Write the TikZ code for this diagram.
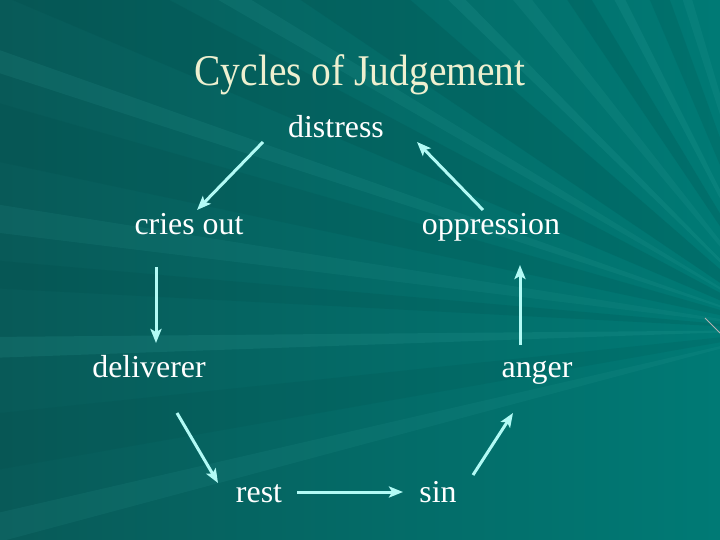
\documentclass[tikz,border=0pt]{standalone}
\usepackage{fontspec}
\setmainfont{Liberation Serif}
\usetikzlibrary{arrows.meta,calc}

\definecolor{bgdark}{RGB}{8,90,88}
\definecolor{bgteal}{RGB}{0,122,117}
\definecolor{raylight}{RGB}{60,175,168}
\definecolor{raydark}{RGB}{0,70,68}
\definecolor{arrowcyan}{RGB}{178,250,245}
\definecolor{titlecol}{RGB}{238,240,208}

\begin{document}
\begin{tikzpicture}[x=1bp,y=-1bp]
\tikzstyle{stage}=[text=white,anchor=base,inner sep=2pt,font=\fontsize{32}{38}\selectfont]
\tikzstyle{flow}=[draw=arrowcyan,line width=3bp,-{Stealth[length=14bp,width=11bp,inset=3bp]}]
% background with rays
\useasboundingbox (0,0) rectangle (720,540);
\shade [left color=bgdark,right color=bgteal] (0,0) rectangle (720,540);
\coordinate (hub) at (790,330);
\begin{scope}
\clip (0,0) rectangle (720,540);
\foreach \a/\w/\c/\o in {178/1.5/raylight/0.15, 183/2/raydark/0.15, 187/2/raylight/0.1,
  192/4/raydark/0.15, 198/1.5/raylight/0.12, 203/5/raydark/0.18, 210/1.5/raylight/0.12,
  214/7/raydark/0.2, 224/1.5/raylight/0.15, 230/2/raylight/0.12, 236/3/raydark/0.18,
  242/1.5/raylight/0.15, 247/3/raydark/0.15, 252/1.5/raylight/0.12, 170/4/raydark/0.12,
  165/2/raylight/0.1}
  \fill [\c,opacity=\o] (hub) -- ($(hub)+(\a:1300)$) -- ($(hub)+(\a+\w:1300)$) -- cycle;
\draw [gray!60,line width=0.8bp] (705,318) -- (720,333);
\end{scope}
% title and stages
\node [text=titlecol,anchor=base,font=\fontsize{44}{50}\selectfont] (title) at (360,86) {\scalebox{0.9}[1]{Cycles of Judgement}};
\node [stage] (distress) at (336,138) {distress};
\node [stage] (criesout) at (189,235) {cries out};
\node [stage] (oppression) at (491,235) {oppression};
\node [stage] (deliverer) at (149,377) {deliverer};
\node [stage] (anger) at (537,377) {anger};
\node [stage] (rest) at (259,502) {rest};
\node [stage] (sin) at (438,502) {sin};
% cycle arrows
\draw [flow] ($(distress.base)+(-73,4)$) -- ($(criesout.base)+(8,-25)$);
\draw [flow] ($(criesout.base)+(-33,32)$) -- ($(deliverer.base)+(7,-34)$);
\draw [flow] ($(deliverer.base)+(28,36)$) -- ($(rest.base)+(-41,-19)$);
\draw [flow] ($(rest.base)+(38,-10)$) -- ($(sin.base)+(-35,-10)$);
\draw [flow] ($(sin.base)+(35,-27)$) -- ($(anger.base)+(-24,36)$);
\draw [flow] ($(anger.base)+(-17,-32)$) -- ($(oppression.base)+(29,30)$);
\draw [flow] ($(oppression.base)+(-8,-25)$) -- ($(distress.base)+(81,4)$);
\end{tikzpicture}
\end{document}
